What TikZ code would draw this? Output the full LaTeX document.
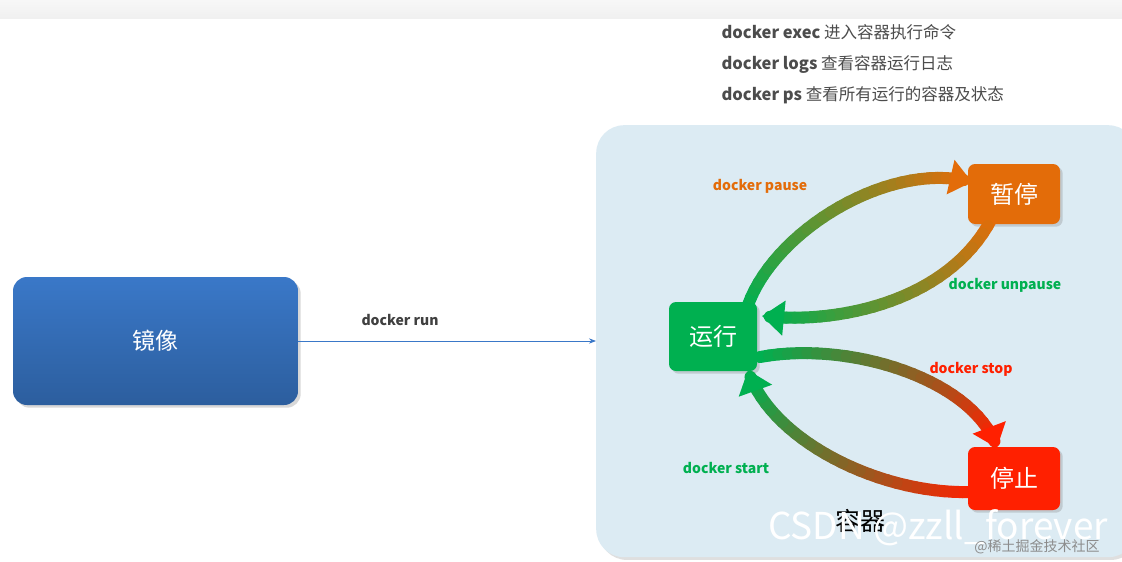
\documentclass[tikz,border=0pt]{standalone}
\usepackage{fontspec}
\setmainfont{Noto Sans CJK SC}
\usetikzlibrary{arrows.meta,shadows}
\definecolor{cgreen}{HTML}{00B050}
\definecolor{corange}{HTML}{E36C09}
\definecolor{cred}{HTML}{FF2000}
\definecolor{cbg}{HTML}{DCEBF3}
\definecolor{cblue}{HTML}{3A78C8}
\definecolor{cblued}{HTML}{2C5E9E}
\tikzset{
  state/.style={rounded corners=7pt, minimum width=90pt, minimum height=64pt, text=white, font=\fontsize{24}{24}\selectfont, drop shadow={opacity=0.3}},
  lbl/.style={font=\bfseries\fontsize{14}{14}\selectfont},
  cmd/.style={anchor=west, text=black!70, font=\fontsize{16.5}{16.5}\selectfont},
}
\newcommand{\gradcurve}[6]{%
  \path #1 .. controls #2 and #3 .. #4
    \foreach \i in {0,...,30}{ coordinate[pos={\i/30}] (gp\i) };
  \foreach \i [evaluate=\i as \j using int(\i+1), evaluate=\i as \m using 100-\i*100/29] in {0,...,28}{
    \colorlet{segc}{#5!\m!#6}
    \draw[line width=12pt, line cap=round, segc] (gp\i) -- (gp\j);
  }
  \draw[line width=12pt, #6, -{Triangle[width=34pt,length=22pt]}] (gp29) -- (gp30);
}
\begin{document}
\begin{tikzpicture}[x=1pt,y=-1pt]
\useasboundingbox (0,0) rectangle (1122,562);
\fill[white] (0,0) rectangle (1122,562);
\shade[top color=black!3, bottom color=black!6] (0,0) rectangle (1122,18);

\node[rounded corners=14pt, minimum width=285pt, minimum height=128pt, top color=cblue, bottom color=cblued, drop shadow={opacity=0.3}, text=white, font=\fontsize{23}{23}\selectfont] (img) at (155.5,341) {镜像};

\node[rounded corners=28pt, fill=cbg, minimum width=540pt, minimum height=432pt, drop shadow={opacity=0.25}, anchor=north west] (box) at (596,125) {};

\draw[-{Stealth[length=7pt]}, cblue, line width=0.8pt] (img.east) -- (box.west |- img.east) coordinate (runend);
\node[lbl, text=black!75] (runl) at (400,320) {docker run};

\node[state, fill=cgreen, minimum width=88pt, minimum height=69pt] (run) at (713,336.5) {运行};
\node[state, fill=corange, minimum width=92pt, minimum height=60pt] (pause) at (1014,194) {暂停};
\node[state, fill=cred, minimum width=92pt, minimum height=63pt] (stop) at (1014,478.5) {停止};

\gradcurve{(748,305)}{(775,230)}{(890,160)}{(972,182)}{cgreen}{corange}
\gradcurve{(992,218)}{(950,300)}{(840,325)}{(762,316)}{corange}{cgreen}
\gradcurve{(760,357)}{(850,340)}{(975,380)}{(997,448)}{cgreen}{cred}
\gradcurve{(972,492)}{(880,495)}{(770,440)}{(748,370)}{cred}{cgreen}

\node[lbl, text=corange] (lp) at (760,186) {docker pause};
\node[lbl, text=cgreen] (lu) at (1005,285) {docker unpause};
\node[lbl, text=cred] (ls) at (971,369) {docker stop};
\node[lbl, text=cgreen] (lst) at (726,468) {docker start};
\node[font=\fontsize{25}{25}\selectfont] (ctr) at (860,521) {容器};

\node[cmd] (c1) at (718,32) {\textbf{docker exec} 进入容器执行命令};
\node[cmd] (c2) at (718,64) {\textbf{docker logs} 查看容器运行日志};
\node[cmd] (c3) at (718,95) {\textbf{docker ps} 查看所有运行的容器及状态};

\node[text=white, font=\fontsize{37}{37}\selectfont] (wm) at (938,528) {CSDN @zzll\_forever};
\node[text=black!45, font=\fontsize{14}{14}\selectfont] (wm2) at (1037,547) {@稀土掘金技术社区};
\end{tikzpicture}
\end{document}
